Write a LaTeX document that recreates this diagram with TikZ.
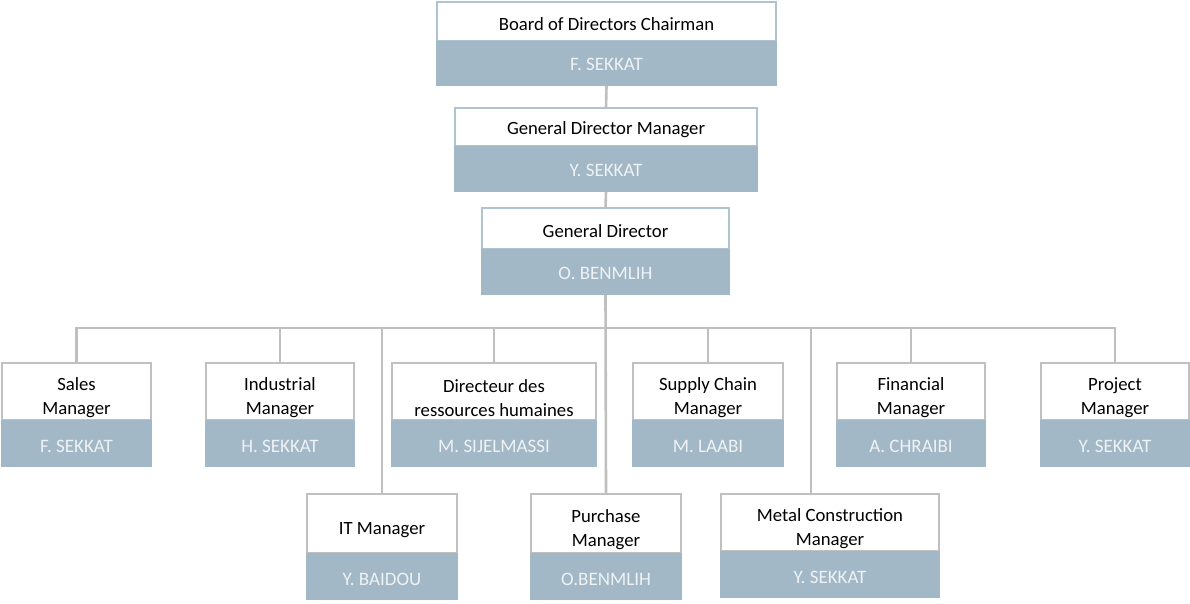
\documentclass[tikz,border=0pt]{standalone}
\usepackage{fontspec}
\setmainfont{Carlito}
\definecolor{boxblue}{HTML}{A3B8C6}
\definecolor{topborder}{HTML}{AFC3D1}
\definecolor{rowborder}{HTML}{C0C0C0}
\definecolor{conncol}{HTML}{BFBFBF}
\definecolor{nametext}{HTML}{EEF2F5}
\tikzset{
  titlebox/.style={line width=1.3pt, fill=white, inner sep=0pt, outer sep=0pt, anchor=north west},
  titletext/.style={inner sep=0pt, align=center, font=\fontsize{18.7}{24}\selectfont, text=black},
  namebox/.style={fill=boxblue, inner sep=0pt, outer sep=0pt, anchor=north west},
  nametext/.style={inner sep=0pt, font=\fontsize{19}{22}\selectfont, text=nametext},
  upper/.style={draw=topborder},
  upper text/.style={yshift=-2.5pt},
  upper name/.style={yshift=-1pt},
  lower/.style={draw=rowborder},
  lower text/.style={yshift=-6.5pt},
  lower name/.style={yshift=-2.5pt},
  conn/.style={draw=conncol, line width=2.6pt},
}
% #1 name, #2 x1, #3 y1, #4 ymid, #5 x2, #6 y2, #7 title, #8 person, #9 level style
\newcommand\obox[9]{%
  \node[titlebox, #9, minimum width={(#5-#2)*1pt}, minimum height={(#4-#3)*1pt},
    label={[titletext, #9 text]center:#7}] (#1-t) at (#2,-#3) {};
  \node[namebox, minimum width={(#5-#2+1.5)*1pt}, minimum height={(#6-#4)*1pt},
    label={[nametext, #9 name]center:#8}] (#1-b) at (#2-0.75,-#4) {};
}
\begin{document}
\begin{tikzpicture}[x=1pt,y=1pt]
\useasboundingbox (0,0) rectangle (1190,-603);
\coordinate (bus) at (605,-328);
% boxes
\obox{bod}{437}{2}{41}{776}{86}{Board of Directors Chairman}{F. SEKKAT}{upper}
\obox{gdm}{455}{108}{146}{757}{192}{General Director Manager}{Y. SEKKAT}{upper}
\obox{gd}{482}{208}{249}{729}{295}{General Director}{O. BENMLIH}{upper}
\obox{sales}{2}{363}{420}{151}{467}{Sales\\Manager}{F. SEKKAT}{lower}
\obox{ind}{206}{363}{420}{354}{467}{Industrial\\Manager}{H. SEKKAT}{lower}
\obox{drh}{392}{363}{420}{596}{467}{Directeur des\\ressources humaines}{M. SIJELMASSI}{lower}
\obox{scm}{633}{363}{420}{783}{467}{Supply Chain\\Manager}{M. LAABI}{lower}
\obox{fin}{837}{363}{420}{985}{467}{Financial\\Manager}{A. CHRAIBI}{lower}
\obox{proj}{1041}{363}{420}{1189}{467}{Project\\Manager}{Y. SEKKAT}{lower}
\obox{it}{307}{494}{553}{457}{600}{IT Manager}{Y. BAIDOU}{lower}
\obox{pur}{531}{494}{553}{681}{600}{Purchase\\Manager}{O.BENMLIH}{lower}
\obox{mcm}{721}{494}{551}{939}{598}{Metal Construction\\Manager}{Y. SEKKAT}{lower}
% connectors
\draw[conn] (bod-b.south) -- (gdm-t.north);
\draw[conn] (gdm-b.south) -- (gd-t.north);
\draw[conn] (gd-b.south) -- (pur-t.north);
\draw[conn] (sales-t.north) |- (bus) -| (proj-t.north);
\draw[conn] (ind-t.north) -- (ind-t.north |- bus);
\draw[conn] (drh-t.north) -- (drh-t.north |- bus);
\draw[conn] (scm-t.north) -- (scm-t.north |- bus);
\draw[conn] (fin-t.north) -- (fin-t.north |- bus);
\draw[conn] (it-t.north) -- (it-t.north |- bus);
\draw[conn] (mcm-t.north west) ++(90,0) coordinate (mcmc) -- (mcmc |- bus);
\end{tikzpicture}
\end{document}
